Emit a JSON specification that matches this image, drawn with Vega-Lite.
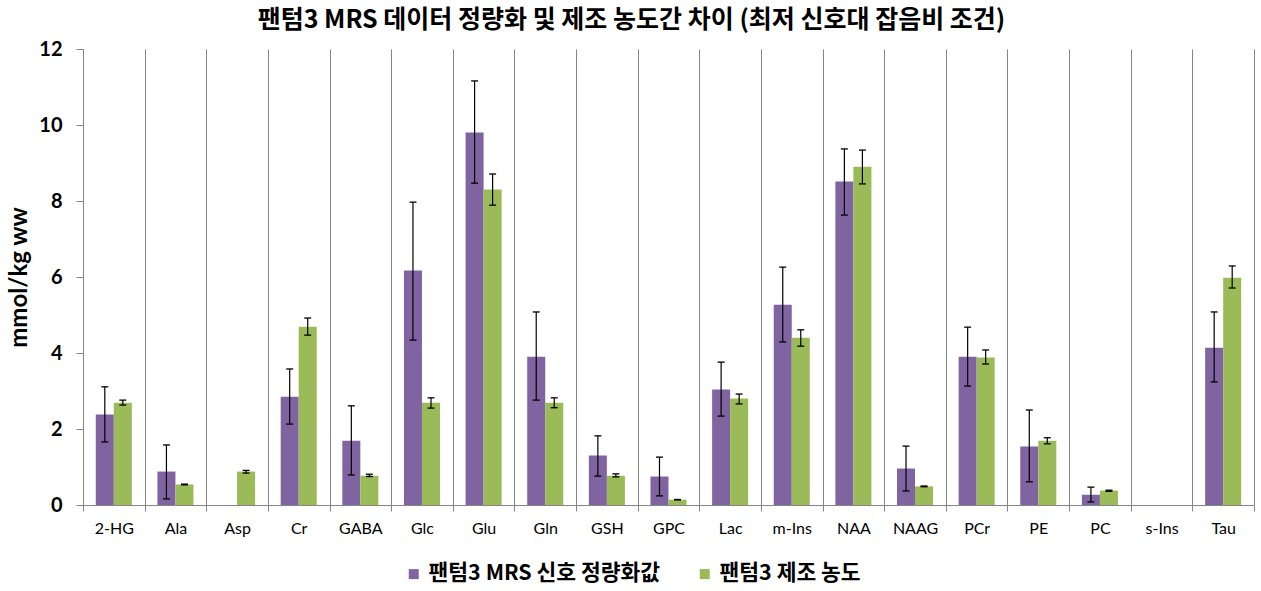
{
  "$schema": "https://vega.github.io/schema/vega-lite/v6.json",
  "width": 1171,
  "height": 456,
  "autosize": {"type": "none"},
  "padding": {"left": 83, "top": 49, "right": 7, "bottom": 86},
  "background": "white",
  "title": {
    "text": "팬텀3 MRS 데이터 정량화 및 제조 농도간 차이 (최저 신호대 잡음비 조건)",
    "font": "Noto Sans CJK KR",
    "fontSize": 25,
    "fontWeight": "bold",
    "color": "#000000",
    "anchor": "middle",
    "dx": -37,
    "offset": 6
  },
  "config": {
    "view": {"stroke": null},
    "axisY": {
      "grid": false,
      "domainColor": "#868686",
      "tickColor": "#868686",
      "tickSize": 7,
      "labelFont": "Lato",
      "labelFontWeight": "bold",
      "labelFontSize": 20,
      "labelColor": "#000000",
      "labelPadding": 14,
      "titleFont": "Lato",
      "titleFontWeight": "bold",
      "titleFontSize": 24,
      "titleColor": "#000000",
      "titlePadding": 7
    }
  },
  "data": {
    "values": [
      {"metabolite": "2-HG", "series": "팬텀3 MRS 신호 정량화값", "value": 2.38, "lo": 1.66, "hi": 3.11},
      {"metabolite": "2-HG", "series": "팬텀3 제조 농도", "value": 2.69, "lo": 2.63, "hi": 2.76},
      {"metabolite": "Ala", "series": "팬텀3 MRS 신호 정량화값", "value": 0.88, "lo": 0.16, "hi": 1.58},
      {"metabolite": "Ala", "series": "팬텀3 제조 농도", "value": 0.54, "lo": 0.53, "hi": 0.55},
      {"metabolite": "Asp", "series": "팬텀3 제조 농도", "value": 0.88, "lo": 0.84, "hi": 0.91},
      {"metabolite": "Cr", "series": "팬텀3 MRS 신호 정량화값", "value": 2.85, "lo": 2.13, "hi": 3.58},
      {"metabolite": "Cr", "series": "팬텀3 제조 농도", "value": 4.69, "lo": 4.47, "hi": 4.92},
      {"metabolite": "GABA", "series": "팬텀3 MRS 신호 정량화값", "value": 1.69, "lo": 0.79, "hi": 2.61},
      {"metabolite": "GABA", "series": "팬텀3 제조 농도", "value": 0.77, "lo": 0.75, "hi": 0.81},
      {"metabolite": "Glc", "series": "팬텀3 MRS 신호 정량화값", "value": 6.17, "lo": 4.34, "hi": 7.97},
      {"metabolite": "Glc", "series": "팬텀3 제조 농도", "value": 2.69, "lo": 2.55, "hi": 2.82},
      {"metabolite": "Glu", "series": "팬텀3 MRS 신호 정량화값", "value": 9.8, "lo": 8.47, "hi": 11.16},
      {"metabolite": "Glu", "series": "팬텀3 제조 농도", "value": 8.3, "lo": 7.89, "hi": 8.71},
      {"metabolite": "Gln", "series": "팬텀3 MRS 신호 정량화값", "value": 3.9, "lo": 2.76, "hi": 5.08},
      {"metabolite": "Gln", "series": "팬텀3 제조 농도", "value": 2.69, "lo": 2.56, "hi": 2.82},
      {"metabolite": "GSH", "series": "팬텀3 MRS 신호 정량화값", "value": 1.3, "lo": 0.76, "hi": 1.82},
      {"metabolite": "GSH", "series": "팬텀3 제조 농도", "value": 0.77, "lo": 0.74, "hi": 0.82},
      {"metabolite": "GPC", "series": "팬텀3 MRS 신호 정량화값", "value": 0.75, "lo": 0.24, "hi": 1.26},
      {"metabolite": "GPC", "series": "팬텀3 제조 농도", "value": 0.14, "lo": 0.135, "hi": 0.145},
      {"metabolite": "Lac", "series": "팬텀3 MRS 신호 정량화값", "value": 3.04, "lo": 2.34, "hi": 3.76},
      {"metabolite": "Lac", "series": "팬텀3 제조 농도", "value": 2.8, "lo": 2.66, "hi": 2.92},
      {"metabolite": "m-Ins", "series": "팬텀3 MRS 신호 정량화값", "value": 5.27, "lo": 4.29, "hi": 6.26},
      {"metabolite": "m-Ins", "series": "팬텀3 제조 농도", "value": 4.4, "lo": 4.18, "hi": 4.61},
      {"metabolite": "NAA", "series": "팬텀3 MRS 신호 정량화값", "value": 8.51, "lo": 7.63, "hi": 9.37},
      {"metabolite": "NAA", "series": "팬텀3 제조 농도", "value": 8.9, "lo": 8.45, "hi": 9.34},
      {"metabolite": "NAAG", "series": "팬텀3 MRS 신호 정량화값", "value": 0.96, "lo": 0.37, "hi": 1.55},
      {"metabolite": "NAAG", "series": "팬텀3 제조 농도", "value": 0.49, "lo": 0.48, "hi": 0.5},
      {"metabolite": "PCr", "series": "팬텀3 MRS 신호 정량화값", "value": 3.9, "lo": 3.13, "hi": 4.68},
      {"metabolite": "PCr", "series": "팬텀3 제조 농도", "value": 3.88, "lo": 3.71, "hi": 4.08},
      {"metabolite": "PE", "series": "팬텀3 MRS 신호 정량화값", "value": 1.54, "lo": 0.61, "hi": 2.5},
      {"metabolite": "PE", "series": "팬텀3 제조 농도", "value": 1.69, "lo": 1.61, "hi": 1.77},
      {"metabolite": "PC", "series": "팬텀3 MRS 신호 정량화값", "value": 0.27, "lo": 0.08, "hi": 0.47},
      {"metabolite": "PC", "series": "팬텀3 제조 농도", "value": 0.38, "lo": 0.36, "hi": 0.39},
      {"metabolite": "Tau", "series": "팬텀3 MRS 신호 정량화값", "value": 4.14, "lo": 3.24, "hi": 5.08},
      {"metabolite": "Tau", "series": "팬텀3 제조 농도", "value": 5.98, "lo": 5.71, "hi": 6.29}
    ]
  },
  "encoding": {
    "x": {
      "field": "metabolite",
      "type": "nominal",
      "sort": null,
      "scale": {
        "domain": ["2-HG", "Ala", "Asp", "Cr", "GABA", "Glc", "Glu", "Gln", "GSH", "GPC", "Lac", "m-Ins", "NAA", "NAAG", "PCr", "PE", "PC", "s-Ins", "Tau"],
        "paddingInner": 0,
        "paddingOuter": 0
      },
      "axis": {
        "title": null,
        "labelAngle": 0,
        "tickBand": "extent",
        "grid": true,
        "gridColor": "#868686",
        "gridWidth": 1,
        "domainColor": "#868686",
        "tickColor": "#868686",
        "tickSize": 6,
        "labelFont": "Lato",
        "labelFontSize": 16,
        "labelColor": "#000000",
        "labelPadding": 9
      }
    },
    "xOffset": {
      "field": "series",
      "type": "nominal",
      "sort": null,
      "scale": {
        "domain": ["팬텀3 MRS 신호 정량화값", "팬텀3 제조 농도"],
        "paddingInner": 0,
        "paddingOuter": 0.71
      }
    }
  },
  "layer": [
    {
      "mark": {"type": "bar"},
      "encoding": {
        "y": {
          "field": "value",
          "type": "quantitative",
          "scale": {"domain": [0, 12]},
          "axis": {"title": "mmol/kg ww", "values": [0, 2, 4, 6, 8, 10, 12]}
        },
        "color": {
          "field": "series",
          "type": "nominal",
          "sort": null,
          "scale": {"domain": ["팬텀3 MRS 신호 정량화값", "팬텀3 제조 농도"], "range": ["#8064A2", "#9BBB59"]},
          "legend": {
            "title": null,
            "orient": "none",
            "direction": "horizontal",
            "legendX": 320,
            "legendY": 514,
            "padding": 0,
            "symbolType": "square",
            "symbolSize": 100,
            "symbolStrokeWidth": 0,
            "symbolOpacity": 1,
            "labelFont": "Noto Sans CJK KR",
            "labelFontWeight": "bold",
            "labelFontSize": 21.5,
            "labelColor": "#000000",
            "labelOffset": 4,
            "columnPadding": 33,
            "labelLimit": 400
          }
        }
      }
    },
    {
      "mark": {"type": "rule", "color": "#000000", "strokeWidth": 1.2},
      "encoding": {
        "y": {"field": "lo", "type": "quantitative", "axis": {"title": "mmol/kg ww", "values": [0, 2, 4, 6, 8, 10, 12]}},
        "y2": {"field": "hi"}
      }
    },
    {
      "mark": {"type": "tick", "color": "#000000", "size": 7, "thickness": 1.3, "opacity": 1},
      "encoding": {
        "y": {"field": "lo", "type": "quantitative", "axis": {"title": "mmol/kg ww", "values": [0, 2, 4, 6, 8, 10, 12]}}
      }
    },
    {
      "mark": {"type": "tick", "color": "#000000", "size": 7, "thickness": 1.3, "opacity": 1},
      "encoding": {
        "y": {"field": "hi", "type": "quantitative", "axis": {"title": "mmol/kg ww", "values": [0, 2, 4, 6, 8, 10, 12]}}
      }
    }
  ]
}
